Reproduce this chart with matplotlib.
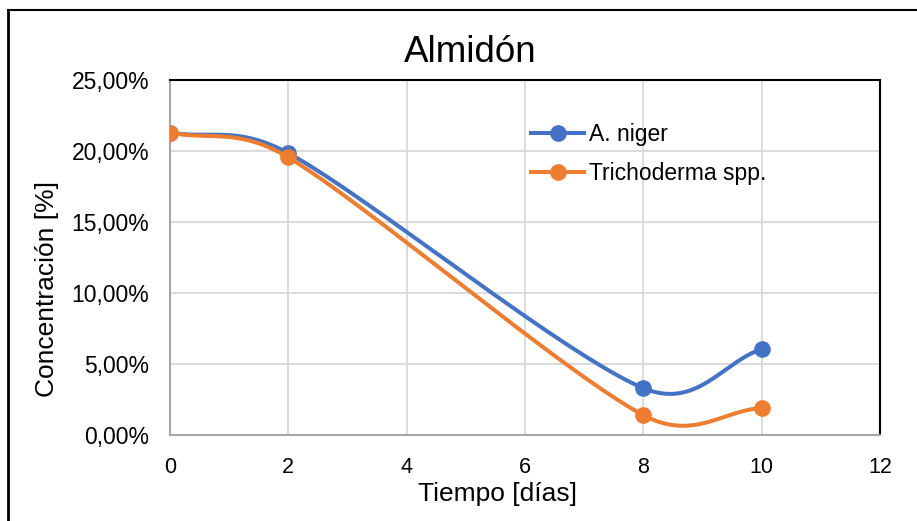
import numpy as np
import matplotlib
matplotlib.use("Agg")
import matplotlib.pyplot as plt
from matplotlib.lines import Line2D
from matplotlib.ticker import FuncFormatter

# datos
dias = [0, 2, 8, 10]
a_niger = [21.30, 19.85, 3.30, 6.05]
trichoderma = [21.30, 19.55, 1.40, 1.90]

serie_nombres = ["A. niger", "Trichoderma spp."]
colores = ["#4472C4", "#ED7D31"]

XMAX, YMAX = 12, 25
ANCHO_PX, ALTO_PX = 710, 355   # tamano del area del grafico


def suavizar(x, y, n=80):
    """Curva suave parecida a la de Excel (Bezier, tangentes limitadas)"""
    p = np.column_stack([x, y]).astype(float)
    esc = np.array([ANCHO_PX / XMAX, ALTO_PX / YMAX])
    largo = lambda a, b: np.linalg.norm((b - a) * esc)
    puntos = []
    for i in range(len(p) - 1):
        p1, p2 = p[i], p[i + 1]
        l12 = largo(p1, p2)
        if i > 0:
            p0 = p[i - 1]
            f = min(1 / 6, l12 / (largo(p0, p1) + l12) / 2)
            c1 = p1 + (p2 - p0) * f
        else:
            c1 = p1 + (p2 - p1) / 3
        if i + 2 < len(p):
            p3 = p[i + 2]
            f = min(1 / 6, l12 / (largo(p2, p3) + l12) / 2)
            c2 = p2 - (p3 - p1) * f
        else:
            c2 = p2 - (p2 - p1) / 3
        t = np.linspace(0, 1, n)[:, None]
        b = ((1 - t) ** 3) * p1 + 3 * ((1 - t) ** 2) * t * c1 \
            + 3 * (1 - t) * t ** 2 * c2 + t ** 3 * p2
        puntos.append(b if i == 0 else b[1:])
    b = np.vstack(puntos)
    return b[:, 0], b[:, 1]


plt.rcParams["font.family"] = ["Liberation Sans", "DejaVu Sans"]

fig = plt.figure(figsize=(9.17, 5.21), dpi=100, facecolor="white")
ax = fig.add_axes([170 / 917, 1 - 435 / 521, ANCHO_PX / 917, ALTO_PX / 521])

handles = []
z = 3
for datos, nombre, color in zip([a_niger, trichoderma], serie_nombres, colores):
    xs, ys = suavizar(dias, datos)
    ax.plot(xs, ys, color=color, lw=2.9, solid_capstyle="round", zorder=z)
    ax.plot(dias, datos, "o", color=color, ms=11, zorder=z + 1)
    handles.append(Line2D([], [], color=color, lw=2.9, marker="o", ms=11))
    z += 2

ax.set_xlim(0, XMAX)
ax.set_ylim(0, YMAX)
ax.set_xticks(range(0, 13, 2))
ax.set_yticks(range(0, 26, 5))
ax.yaxis.set_major_formatter(FuncFormatter(lambda v, p: f"{v:.2f}%".replace(".", ",")))
ax.grid(True, color="#d9d9d9", lw=1.3)
ax.set_axisbelow(True)
ax.tick_params(length=0)
ax.tick_params(axis="y", labelsize=16.5, pad=15)
ax.tick_params(axis="x", labelsize=15.5, pad=16)

for lado in ["left", "bottom"]:
    ax.spines[lado].set_color("#a6a6a6")
    ax.spines[lado].set_linewidth(1.5)
for lado in ["top", "right"]:
    ax.spines[lado].set_color("black")
    ax.spines[lado].set_linewidth(1.5)

fig.text(470 / 917, 1 - 52 / 521, "Almidón", fontsize=26.5, ha="center", va="center")
fig.text(497 / 917, 1 - 494 / 521, "Tiempo [días]", fontsize=19, ha="center", va="center")
fig.text(47 / 917, 1 - 289 / 521, "Concentración [%]", fontsize=19,
         rotation=90, ha="center", va="center")

ax.legend(handles, serie_nombres, loc="upper left",
          bbox_to_anchor=((520 - 170) / 710, (435 - 112) / 355),
          frameon=False, fontsize=16.5, handlelength=2.3, handletextpad=0.2,
          labelspacing=0.68, borderpad=0)

# marco exterior del grafico
fig.add_artist(Line2D([8 / 917, 1], [1 - 10 / 521] * 2, color="black", lw=1.5))
fig.add_artist(Line2D([8 / 917] * 2, [0, 1 - 10 / 521], color="black", lw=2))

fig.savefig("out.png", dpi=100, facecolor="white")
